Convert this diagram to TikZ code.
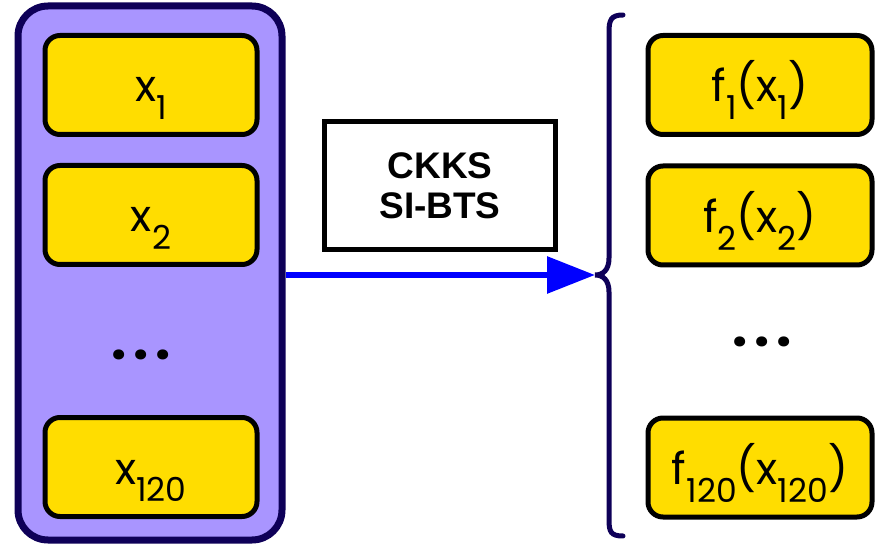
\documentclass[tikz,border=0pt]{standalone}
\usepackage{fontspec}
\usetikzlibrary{arrows.meta}
\newfontfamily\lblfont{Poppins}
\newfontfamily\boldsans{Liberation Sans Bold}
\definecolor{navy}{HTML}{0E0058}
\definecolor{lilac}{HTML}{A995FF}
\definecolor{gold}{HTML}{FFDD00}
\definecolor{pureblue}{HTML}{0000FF}
% lowered index digits for the cell labels
\newcommand\lsub[1]{\raisebox{-0.40em}{\fontsize{33}{33}\selectfont #1}}
% widely spaced ellipsis
\newcommand\gapdots{.\kern7pt.\kern7pt.}
\begin{document}
\begin{tikzpicture}[x=1pt,y=-1pt,
  cell/.style={draw=black,fill=gold,line width=5pt,rounded corners=15pt,
    minimum width=212pt,minimum height=99pt,inner sep=0pt,
    text height=34pt,text depth=0pt,
    font=\lblfont\fontsize{44}{44}\selectfont},
  rcell/.style={cell,minimum width=224pt},
  container/.style={draw=navy,fill=lilac,line width=7pt,rounded corners=30pt,
    minimum width=264pt,minimum height=534pt,inner sep=0pt},
  opbox/.style={draw=black,fill=white,line width=5pt,minimum width=231pt,
    minimum height=128pt,inner sep=0pt,align=center,
    font=\boldsans\fontsize{37}{40}\selectfont},
  dots/.style={font=\lblfont\bfseries\fontsize{54}{54}\selectfont,inner sep=0pt},
  flow/.style={draw=pureblue,line width=6pt,-{Triangle[length=48pt,width=36pt]}},
  brace/.style={draw=navy,line width=5pt,line cap=round}]
\useasboundingbox (0,0) rectangle (878,545);

% input vector
\node[container] (vec) at (150,273) {};
\node[cell] (x1) at (151,85) {x\lsub{1}};
\node[cell] (x2) at (151,215) {x\lsub{2}};
\node[dots] (ldots) at (141,355) {\gapdots};
\node[cell] (x120) at (151,467) {x\lsub{120}};

% operation label
\node[opbox] (op) at (440,185.5) {CKKS\\SI-BTS};

% brace gathering the outputs
\coordinate (tip) at (595,275);
\draw[brace] (623,15) .. controls (611,15) and (609,20) .. (609,32)
  -- (609,258) .. controls (609,270) and (603,275) .. (tip)
  .. controls (603,275) and (609,280) .. (609,292)
  -- (609,520) .. controls (609,532) and (611,536) .. (623,536);

% outputs
\node[rcell] (f1) at (760,85) {f\lsub{1}(x\lsub{1})};
\node[rcell] (f2) at (760,215.5) {f\lsub{2}(x\lsub{2})};
\node[dots] (rdots) at (762,342) {\gapdots};
\node[rcell] (f120) at (760,467.5) {f\lsub{120}(x\lsub{120})};

% evaluation arrow
\draw[flow] (vec.east |- tip) -- (tip);
\end{tikzpicture}
\end{document}
